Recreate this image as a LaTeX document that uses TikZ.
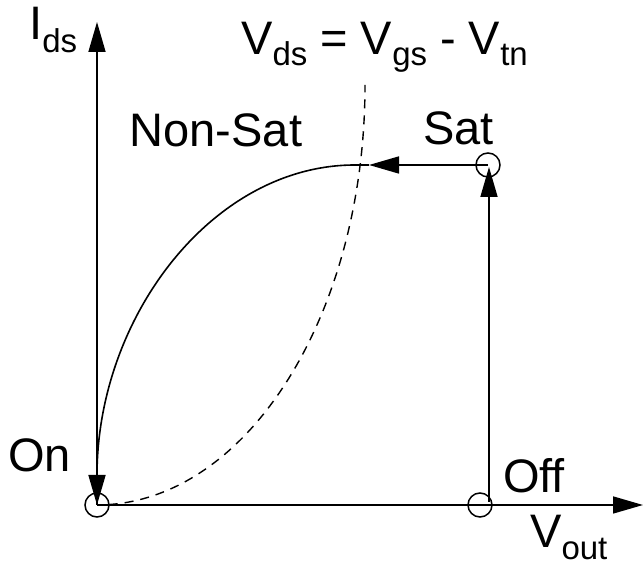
\documentclass[tikz,border=0pt]{standalone}
\usepackage{fontspec}
\setmainfont{Liberation Sans}
\usetikzlibrary{arrows.meta}
\newcommand\lowsub[2][11pt]{\raisebox{-#1}{\fontsize{33}{33}\selectfont #2}}
\begin{document}
\begin{tikzpicture}[x=1pt,y=1pt,
  lbl/.style={anchor=base west,inner sep=0pt,font=\fontsize{47}{56}\selectfont},
  ln/.style={line width=1.6pt},
  tip/.style={-{Triangle[length=30pt,width=17pt]}},
  ptc/.style={circle,draw,line width=1.5pt,minimum size=24pt,inner sep=0pt}]
\useasboundingbox (0,0) rectangle (643,569);
% state circles
\node[ptc] (on) at (97,64) {};
\node[ptc] (off) at (480,64) {};
\node[ptc] (sat) at (488,404) {};
% helper coordinates
\coordinate (ytip) at (97,547);
\coordinate (xtip) at (643,64);
\coordinate (offv) at (489,67);
\coordinate (satv) at (489,402);
\coordinate (harr) at (369,404);
\coordinate (cross) at (355,404);
\coordinate (ecen) at (97,484);
% axes
\draw[ln,tip] (on.center) -- (ytip);
\draw[ln,tip] (on.center) -- (xtip);
% Off -> Sat
\draw[ln,tip] (offv) -- (satv);
% Sat -> boundary
\draw[ln,tip] (sat.center) -- (harr);
\draw[ln] (harr) -- (cross);
% Non-sat curve down to On
\draw[ln,tip] (cross) arc[start angle=90,end angle=180,x radius=258,y radius=340];
% Vds = Vgs - Vtn boundary
\draw[line width=1.4pt,dash pattern=on 9pt off 7pt]
  ([shift={(272.5:268 and 420)}]ecen) arc[start angle=272.5,end angle=360,x radius=268,y radius=420];
% labels
\node[lbl] (ids) at (29,529) {I\lowsub[13pt]{ds}};
\node[lbl] (eq) at (241,514) {V\lowsub{ds} = V\lowsub{gs} - V\lowsub{tn}};
\node[lbl] (nonsat) at (129.5,422) {Non-Sat};
\node[lbl] (satl) at (423,424) {Sat};
\node[lbl] (onl) at (8,97) {On};
\node[lbl] (offl) at (503,76) {Off};
\node[lbl] (vout) at (530,21) {V\lowsub[12pt]{out}};
\end{tikzpicture}
\end{document}
